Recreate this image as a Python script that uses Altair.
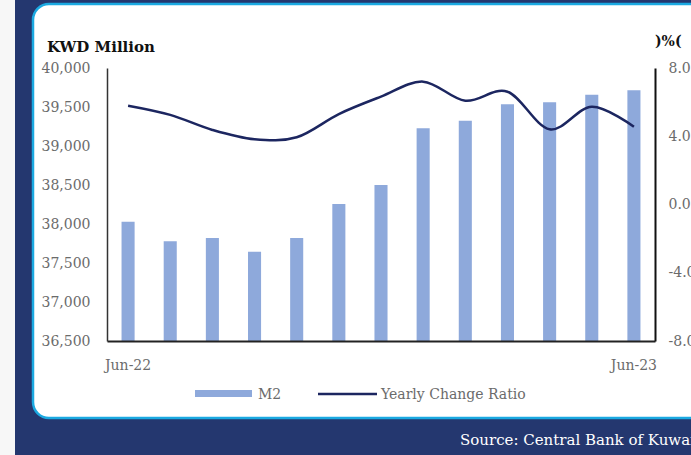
import altair as alt
import pandas as pd

months = ["Jun-22", "Jul-22", "Aug-22", "Sep-22", "Oct-22", "Nov-22", "Dec-22",
          "Jan-23", "Feb-23", "Mar-23", "Apr-23", "May-23", "Jun-23"]
m2 = [38030, 37780, 37820, 37645, 37820, 38256, 38500,
      39227, 39324, 39535, 39560, 39658, 39714]
ratio = [5.79, 5.25, 4.37, 3.82, 3.94, 5.30, 6.32,
         7.20, 6.08, 6.61, 4.41, 5.73, 4.56]

df = pd.DataFrame({"month": months, "m2": m2, "ratio": ratio})
one = pd.DataFrame({"k": [0]})

SERIF = "DejaVu Serif"
NAVY = "#24376F"
CYAN = "#1BA9E1"
BAR = "#8EA9DB"
LINE = "#1C2660"
GRAY = "#6b6b6b"

xenc = alt.X("month:N", sort=months, title=None,
             scale=alt.Scale(paddingInner=0.69, paddingOuter=0.345),
             axis=alt.Axis(labelExpr="datum.value == 'Jun-22' || datum.value == 'Jun-23' ? datum.label : ''",
                           ticks=False, labelAngle=0, labelPadding=17, labelFont=SERIF,
                           labelFontSize=14, labelColor=GRAY, domainColor="#222222",
                           domainWidth=2, grid=False, zindex=1))

panel = alt.Chart(one).mark_rect(fill="white", stroke=CYAN, strokeWidth=2.5, cornerRadius=16).encode(
    x=alt.value(-74), x2=alt.value(720), y=alt.value(-64), y2=alt.value(350))
strip = alt.Chart(one).mark_rect(fill="#f7f7f7").encode(
    x=alt.value(-107), x2=alt.value(-92), y=alt.value(-68), y2=alt.value(387))

bars = alt.Chart(df).mark_bar(color=BAR).encode(
    x=xenc,
    y=alt.Y("m2:Q", title=None,
            scale=alt.Scale(domain=[36500, 40000], zero=False, nice=False),
            axis=alt.Axis(orient="left", values=list(range(36500, 40001, 500)), format=",.0f",
                          ticks=False, grid=False, labelPadding=17, labelFont=SERIF,
                          labelFontSize=14, labelColor=GRAY, domainColor="#333333",
                          domainWidth=1.5, zindex=1)),
    y2=alt.datum(36500),
)

line = alt.Chart(df).mark_line(color=LINE, strokeWidth=2.5, interpolate="cardinal").encode(
    x=alt.X("month:N", sort=months),
    y=alt.Y("ratio:Q", title=None,
            scale=alt.Scale(domain=[-8, 8], nice=False),
            axis=alt.Axis(orient="right", values=[-8, -4, 0, 4, 8], format=".1f",
                          labelExpr="replace(datum.label, '\u2212', '-')",
                          ticks=False, grid=False, labelPadding=13, labelFont=SERIF,
                          labelFontSize=14, labelColor=GRAY, domainColor="#111111",
                          domainWidth=2, zindex=1)),
)

def txt(s, x, y, size=14, color=GRAY, weight="normal", font=SERIF, align="left"):
    return alt.Chart(pd.DataFrame({"t": [s]})).mark_text(
        align=align, baseline="middle", font=font, fontSize=size, color=color, fontWeight=weight
    ).encode(text="t:N", x=alt.value(x), y=alt.value(y))

leg_bar = alt.Chart(one).mark_rect(fill=BAR).encode(
    x=alt.value(88), x2=alt.value(145), y=alt.value(322), y2=alt.value(329))
leg_line = alt.Chart(one).mark_rule(color=LINE, strokeWidth=2.5).encode(
    x=alt.value(211), x2=alt.value(270), y=alt.value(326))

chart = alt.layer(
    panel, strip, bars, line, leg_bar, leg_line,
    txt("M2", 151, 327),
    txt("Yearly Change Ratio", 274, 327),
    txt("KWD Million", -60, -21, size=15, color="#111111", weight="bold"),
    txt(")%(", 548, -26, size=14, color="#111111", weight="bold"),
    txt("Source: Central Bank of Kuwait", 353, 372, size=15, color="white"),
).resolve_scale(y="independent").properties(
    width=548, height=273,
    autosize=alt.AutoSizeParams(type="none"),
    padding={"left": 107, "top": 68, "right": 36, "bottom": 114},
).configure(background=NAVY).configure_view(stroke=None)

chart.save("out.html", embed_options={"renderer": "svg", "actions": False})
